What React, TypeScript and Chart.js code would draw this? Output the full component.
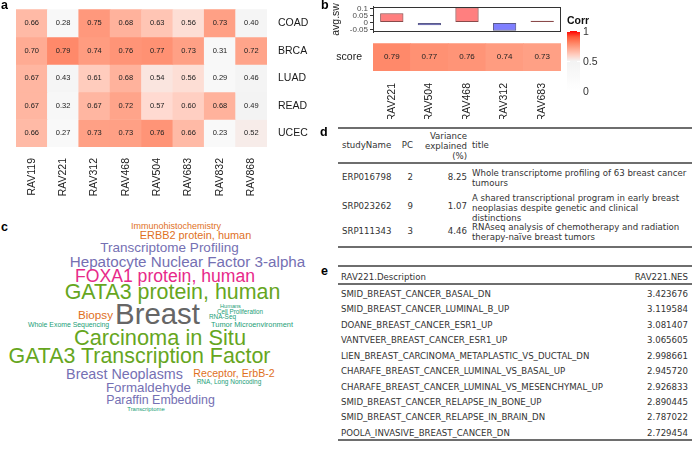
import React, { useEffect, useRef } from "react";
import { Chart, registerables } from "chart.js";
Chart.register(...registerables);

// ---------- data ----------
const heatRows = ["COAD", "BRCA", "LUAD", "READ", "UCEC"];
const heatCols = ["RAV119", "RAV221", "RAV312", "RAV468", "RAV504", "RAV683", "RAV832", "RAV868"];
const coadVals = [0.66, 0.28, 0.75, 0.68, 0.63, 0.56, 0.73, 0.4];
const brcaVals = [0.7, 0.79, 0.74, 0.76, 0.77, 0.73, 0.31, 0.72];
const luadVals = [0.67, 0.43, 0.61, 0.68, 0.54, 0.56, 0.29, 0.46];
const readVals = [0.67, 0.32, 0.67, 0.72, 0.57, 0.6, 0.68, 0.49];
const ucecVals = [0.66, 0.27, 0.73, 0.73, 0.76, 0.66, 0.23, 0.52];

const topRavs = ["RAV221", "RAV504", "RAV468", "RAV312", "RAV683"];
const avgSw = [0.066, -0.02, 0.11, -0.06, 0.012];
const scoreVals = [0.79, 0.77, 0.76, 0.74, 0.73];
const avgSwTicks = [0.1, 0.05, 0, -0.05];
const corrTicks = [1, 0.5, 0];

const studyNames = ["ERP016798", "SRP023262", "SRP111343"];
const studyPCs = ["2", "9", "3"];
const studyVariance = ["8.25", "1.07", "4.46"];
const studyTitles = [
  "Whole transcriptome profiling of 63 breast cancer\ntumours",
  "A shared transcriptional program in early breast\nneoplasias despite genetic and clinical\ndistinctions",
  "RNAseq analysis of chemotherapy and radiation\ntherapy-naïve breast tumors",
];

const gseaDescriptions = [
  "SMID_BREAST_CANCER_BASAL_DN",
  "SMID_BREAST_CANCER_LUMINAL_B_UP",
  "DOANE_BREAST_CANCER_ESR1_UP",
  "VANTVEER_BREAST_CANCER_ESR1_UP",
  "LIEN_BREAST_CARCINOMA_METAPLASTIC_VS_DUCTAL_DN",
  "CHARAFE_BREAST_CANCER_LUMINAL_VS_BASAL_UP",
  "CHARAFE_BREAST_CANCER_LUMINAL_VS_MESENCHYMAL_UP",
  "SMID_BREAST_CANCER_RELAPSE_IN_BONE_UP",
  "SMID_BREAST_CANCER_RELAPSE_IN_BRAIN_DN",
  "POOLA_INVASIVE_BREAST_CANCER_DN",
];
const gseaNES = ["3.423676", "3.119584", "3.081407", "3.065605", "2.998661", "2.945720", "2.926833", "2.890445", "2.787022", "2.729454"];

const cloudWords = [
  "Immunohistochemistry", "ERBB2 protein, human", "Transcriptome Profiling",
  "Hepatocyte Nuclear Factor 3-alpha", "FOXA1 protein, human", "GATA3 protein, human",
  "Biopsy", "Breast", "Humans", "Cell Proliferation", "RNA-Seq", "Whole Exome Sequencing",
  "Tumor Microenvironment", "Carcinoma in Situ", "GATA3 Transcription Factor",
  "Breast Neoplasms", "Receptor, ErbB-2", "RNA, Long Noncoding", "Formaldehyde",
  "Paraffin Embedding", "Transcriptome",
];

// ---------- layout / style ----------
const SANS = '"Liberation Sans", Arial, Helvetica, sans-serif';
const TFONT = '"DejaVu Sans", sans-serif';
const TSIZE = 8.6;
const C_TEAL = "#1b9e77", C_OR = "#e0701e", C_PUR = "#7570b3", C_PINK = "#e7298a", C_GRN = "#66a61e", C_GRY = "#666666";
// [centerX, centerY, fontSize, color]
const cloudLayout: [number, number, number, string][] = [
  [176, 226, 9, C_OR],
  [195.5, 235, 10.9, C_OR],
  [169.5, 248, 13.5, C_PUR],
  [187.5, 262, 15.2, C_PUR],
  [165, 277, 17.6, C_PINK],
  [172.5, 293, 21.4, C_GRN],
  [95.5, 315, 11.7, C_OR],
  [157.5, 314, 29.4, C_GRY],
  [230.5, 307, 5.6, C_TEAL],
  [240, 312, 6.3, C_TEAL],
  [222.5, 317, 6.4, C_TEAL],
  [68.5, 325, 6.9, C_TEAL],
  [252, 325, 7.4, C_TEAL],
  [160, 338, 21.8, C_GRN],
  [139.5, 357, 21.4, C_GRN],
  [124.5, 374, 14.3, C_PUR],
  [234, 373, 10.6, C_OR],
  [229, 382, 6.5, C_TEAL],
  [148.5, 388, 13.3, C_PUR],
  [160.5, 400, 12.4, C_PUR],
  [146, 410, 5.9, C_TEAL],
];

// ---------- colour ramp (LAB, like circlize::colorRamp2) ----------
function hexRgb(h: string) {
  return [parseInt(h.slice(1, 3), 16), parseInt(h.slice(3, 5), 16), parseInt(h.slice(5, 7), 16)];
}
function lin(c: number) { c /= 255; return c <= 0.04045 ? c / 12.92 : Math.pow((c + 0.055) / 1.055, 2.4); }
function delin(c: number) {
  const v = c <= 0.0031308 ? 12.92 * c : 1.055 * Math.pow(c, 1 / 2.4) - 0.055;
  return Math.round(Math.max(0, Math.min(1, v)) * 255);
}
function toLab(rgb: number[]) {
  const R = lin(rgb[0]), G = lin(rgb[1]), B = lin(rgb[2]);
  const X = (0.4124 * R + 0.3576 * G + 0.1805 * B) / 0.95047;
  const Y = 0.2126 * R + 0.7152 * G + 0.0722 * B;
  const Z = (0.0193 * R + 0.1192 * G + 0.9505 * B) / 1.08883;
  const f = (t: number) => (t > 0.008856 ? Math.cbrt(t) : 7.787 * t + 16 / 116);
  const fx = f(X), fy = f(Y), fz = f(Z);
  return [116 * fy - 16, 500 * (fx - fy), 200 * (fy - fz)];
}
function fromLab(l: number[]) {
  const fy = (l[0] + 16) / 116, fx = fy + l[1] / 500, fz = fy - l[2] / 200;
  const inv = (t: number) => (t * t * t > 0.008856 ? t * t * t : (t - 16 / 116) / 7.787);
  const X = inv(fx) * 0.95047, Y = inv(fy), Z = inv(fz) * 1.08883;
  const R = 3.2406 * X - 1.5372 * Y - 0.4986 * Z;
  const G = -0.9689 * X + 1.8758 * Y + 0.0415 * Z;
  const B = 0.0557 * X - 0.204 * Y + 1.057 * Z;
  return `rgb(${delin(R)},${delin(G)},${delin(B)})`;
}
const rampStops = [0, 0.5, 1];
const rampLabs = ["#ffffff", "#f3f3f3", "#ff0000"].map((h) => toLab(hexRgb(h)));
function corrColor(v: number) {
  const x = Math.max(0, Math.min(1, v));
  const k = x <= 0.5 ? 0 : 1;
  const t = (x - rampStops[k]) / (rampStops[k + 1] - rampStops[k]);
  const a = rampLabs[k], b = rampLabs[k + 1];
  return fromLab([a[0] + (b[0] - a[0]) * t, a[1] + (b[1] - a[1]) * t, a[2] + (b[2] - a[2]) * t]);
}

function cellTextPlugin(valsList: number[][], size: number) {
  return {
    id: "cellText",
    afterDatasetsDraw(chart: any) {
      const ctx = chart.ctx;
      ctx.save();
      ctx.font = `${size}px ${SANS}`;
      ctx.fillStyle = "#222";
      ctx.textAlign = "center";
      ctx.textBaseline = "middle";
      chart.data.datasets.forEach((_ds: any, di: number) => {
        chart.getDatasetMeta(di).data.forEach((el: any, i: number) => {
          ctx.fillText(valsList[di][i].toFixed(2), el.x, (el.y + el.base) / 2);
        });
      });
      ctx.restore();
    },
  };
}

const boxPlugin = {
  id: "box",
  afterDraw(chart: any) {
    const { left, top, right, bottom } = chart.chartArea;
    const ctx = chart.ctx;
    ctx.save();
    ctx.strokeStyle = "#333";
    ctx.lineWidth = 1;
    ctx.strokeRect(Math.round(left) + 0.5, Math.round(top) + 0.5, Math.round(right - left) - 1, Math.round(bottom - top) - 1);
    ctx.restore();
  },
};

function HeatmapA() {
  const ref = useRef<HTMLCanvasElement>(null);
  useEffect(() => {
    const rowsVals = [coadVals, brcaVals, luadVals, readVals, ucecVals];
    const chart = new Chart(ref.current as HTMLCanvasElement, {
      type: "bar",
      data: {
        labels: heatCols,
        datasets: rowsVals.map((vals, r) => ({
          label: heatRows[r],
          data: vals.map(() => [r, r + 1]),
          backgroundColor: vals.map(corrColor),
          borderWidth: 0,
          barPercentage: 1,
          categoryPercentage: 1,
          grouped: false,
        })) as any,
      },
      options: {
        responsive: false,
        animation: false,
        events: [],
        layout: { padding: { left: 16, top: 2, right: 0, bottom: 0 } },
        plugins: { legend: { display: false }, tooltip: { enabled: false } },
        scales: {
          x: {
            grid: { display: false },
            border: { display: false },
            ticks: { minRotation: 90, maxRotation: 90, autoSkip: false, padding: 3, color: "#1a1a1a", font: { family: SANS, size: 10.5 } },
            afterFit: (s: any) => { s.height = 53; },
          },
          y: {
            type: "linear",
            position: "right",
            min: 0,
            max: 5,
            reverse: true,
            grid: { display: false },
            border: { display: false },
            afterBuildTicks: (s: any) => { s.ticks = heatRows.map((_r, i) => ({ value: i + 0.5 })); },
            ticks: { autoSkip: false, padding: 3, color: "#1a1a1a", font: { family: SANS, size: 10.5 }, callback: (_v: any, i: number) => heatRows[i] },
            afterFit: (s: any) => { s.width = 53; },
          },
        },
      } as any,
      plugins: [cellTextPlugin(rowsVals, 7.5)],
    });
    return () => chart.destroy();
  }, []);
  return <canvas ref={ref} width={320} height={200} style={{ position: "absolute", left: 0, top: 0 }} />;
}

function BarsB() {
  const ref = useRef<HTMLCanvasElement>(null);
  useEffect(() => {
    const chart = new Chart(ref.current as HTMLCanvasElement, {
      type: "bar",
      data: {
        labels: topRavs,
        datasets: [{
          data: avgSw,
          backgroundColor: avgSw.map((v) => (v >= 0 ? "rgba(255,0,0,0.5)" : "rgba(0,0,255,0.5)")),
          borderColor: avgSw.map((v) => (v >= 0 ? "#8a4a4a" : "#5a5a8a")),
          borderWidth: 1,
          borderSkipped: false,
          barPercentage: 0.62,
          categoryPercentage: 1,
        }],
      },
      options: {
        responsive: false,
        animation: false,
        events: [],
        layout: { padding: { left: 0, top: 3, right: 9, bottom: 10 } },
        plugins: { legend: { display: false }, tooltip: { enabled: false } },
        scales: {
          x: { display: false },
          y: {
            min: -0.069,
            max: 0.1125,
            grid: { drawOnChartArea: false, drawTicks: true, tickLength: 3, color: "#333" },
            border: { display: true, color: "#333" },
            afterBuildTicks: (s: any) => { s.ticks = avgSwTicks.map((v) => ({ value: v })); },
            ticks: { autoSkip: false, padding: 2, color: "#4d4d4d", font: { family: SANS, size: 8 }, callback: (v: any) => String(v) },
            title: { display: true, text: "avg.sw", padding: 0, color: "#222", font: { family: SANS, size: 10.5 } },
            afterFit: (s: any) => { s.width = 43; },
          },
        },
      } as any,
      plugins: [boxPlugin],
    });
    return () => chart.destroy();
  }, []);
  return <canvas ref={ref} width={240} height={42} style={{ position: "absolute", left: 330, top: 0 }} />;
}

function ScoreB() {
  const ref = useRef<HTMLCanvasElement>(null);
  useEffect(() => {
    const chart = new Chart(ref.current as HTMLCanvasElement, {
      type: "bar",
      data: {
        labels: topRavs,
        datasets: [{
          data: scoreVals.map(() => [0, 1]) as any,
          backgroundColor: scoreVals.map(corrColor),
          borderWidth: 0,
          barPercentage: 1,
          categoryPercentage: 1,
        }],
      },
      options: {
        responsive: false,
        animation: false,
        events: [],
        layout: { padding: { left: 0, top: 1, right: 9, bottom: 0 } },
        plugins: { legend: { display: false }, tooltip: { enabled: false } },
        scales: {
          x: {
            grid: { display: false },
            border: { display: false },
            ticks: { minRotation: 90, maxRotation: 90, autoSkip: false, padding: 4, color: "#1a1a1a", font: { family: SANS, size: 10.5 } },
            afterFit: (s: any) => { s.height = 48; },
          },
          y: {
            min: 0,
            max: 1,
            reverse: true,
            grid: { display: false },
            border: { display: false },
            afterBuildTicks: (s: any) => { s.ticks = [{ value: 0.5 }]; },
            ticks: { autoSkip: false, padding: 3, color: "#1a1a1a", font: { family: SANS, size: 10.5 }, callback: () => "score" },
            afterFit: (s: any) => { s.width = 43; },
          },
        },
      } as any,
      plugins: [cellTextPlugin([scoreVals], 8)],
    });
    return () => chart.destroy();
  }, []);
  return <canvas ref={ref} width={240} height={85} style={{ position: "absolute", left: 330, top: 34 }} />;
}

function CorrLegend() {
  const top = 31, h = 60;
  const stops = [];
  for (let i = 0; i <= 10; i++) stops.push(`${corrColor(1 - i / 10)} ${i * 10}%`);
  return (
    <>
      <div style={{ position: "absolute", left: 567, top: 14, font: `bold 10.5px ${SANS}`, color: "#111", lineHeight: "12px" }}>Corr</div>
      <div style={{ position: "absolute", left: 567, top, width: 13, height: h, background: `linear-gradient(${stops.join(",")})` }} />
      {corrTicks.map((v) => {
        const y = top + (1 - v) * h;
        return (
          <React.Fragment key={v}>
            <div style={{ position: "absolute", left: 567, top: y - 0.5, width: 3, height: 1, background: "#fff" }} />
            <div style={{ position: "absolute", left: 577, top: y - 0.5, width: 3, height: 1, background: "#fff" }} />
            <div style={{ position: "absolute", left: 583, top: y - 6, font: `10.5px ${SANS}`, color: "#333", lineHeight: "12px" }}>{String(v)}</div>
          </React.Fragment>
        );
      })}
    </>
  );
}

function WordCloud() {
  return (
    <>
      {cloudWords.map((w, i) => {
        const [cx, cy, fs, col] = cloudLayout[i];
        return (
          <div key={w} style={{ position: "absolute", left: cx, top: cy, transform: "translate(-50%,-50%)", whiteSpace: "nowrap", font: `${fs}px ${SANS}`, lineHeight: 1, color: col }}>{w}</div>
        );
      })}
    </>
  );
}

function Rule({ y, h = 2 }: { y: number; h?: number }) {
  return <div style={{ position: "absolute", left: 338, width: 354, top: y - h / 2, height: h, background: "#6e6e6e" }} />;
}

function T({ x, cy, n = 1, align = "left", lh = 8.4, children }: any) {
  const style: any = { position: "absolute", top: cy - (n * lh) / 2, lineHeight: `${lh}px`, whiteSpace: "pre", font: `${TSIZE}px ${TFONT}`, color: "#333", textAlign: align };
  if (align === "right") style.right = 694 - x; else style.left = x;
  return <div style={style}>{children}</div>;
}

function TableD() {
  const rowTops = [167.5, 192.5, 222];
  const lh = 8.4;
  return (
    <>
      <Rule y={128} />
      <T x={342} cy={144}>studyName</T>
      <T x={413} cy={144} align="right">PC</T>
      <T x={467} cy={144} n={3} align="right">{"Variance\nexplained\n(%)"}</T>
      <T x={472} cy={144}>title</T>
      <Rule y={163} />
      {studyNames.map((s, i) => {
        const n = studyTitles[i].split("\n").length;
        const cy = rowTops[i] + (n * lh) / 2;
        return (
          <React.Fragment key={s}>
            <T x={342} cy={cy}>{s}</T>
            <T x={413} cy={cy} align="right">{studyPCs[i]}</T>
            <T x={467} cy={cy} align="right">{studyVariance[i]}</T>
            <T x={472} cy={cy} n={n}>{studyTitles[i]}</T>
          </React.Fragment>
        );
      })}
      <Rule y={247} />
    </>
  );
}

function TableE() {
  return (
    <>
      <Rule y={266} />
      <T x={341} cy={276}>RAV221.Description</T>
      <T x={688} cy={276} align="right">RAV221.NES</T>
      <Rule y={284} />
      {gseaDescriptions.map((d, i) => {
        const cy = 293 + i * 15.45;
        return (
          <React.Fragment key={d}>
            <T x={341} cy={cy}>{d}</T>
            <T x={688} cy={cy} align="right">{gseaNES[i]}</T>
          </React.Fragment>
        );
      })}
      <Rule y={440} h={2.5} />
    </>
  );
}

function PanelLabel({ x, y, t }: { x: number; y: number; t: string }) {
  return <div style={{ position: "absolute", left: x, top: y, font: `bold 12.5px ${SANS}`, lineHeight: 1, color: "#000" }}>{t}</div>;
}

export default function App() {
  return (
    <div style={{ position: "fixed", left: 0, top: 0, width: 694, height: 449, background: "#fff", overflow: "hidden" }}>
      <HeatmapA />
      <BarsB />
      <ScoreB />
      <CorrLegend />
      <WordCloud />
      <TableD />
      <TableE />
      <PanelLabel x={1} y={-1} t="a" />
      <PanelLabel x={321} y={-1} t="b" />
      <PanelLabel x={1} y={221} t="c" />
      <PanelLabel x={320} y={126} t="d" />
      <PanelLabel x={321} y={265} t="e" />
    </div>
  );
}
